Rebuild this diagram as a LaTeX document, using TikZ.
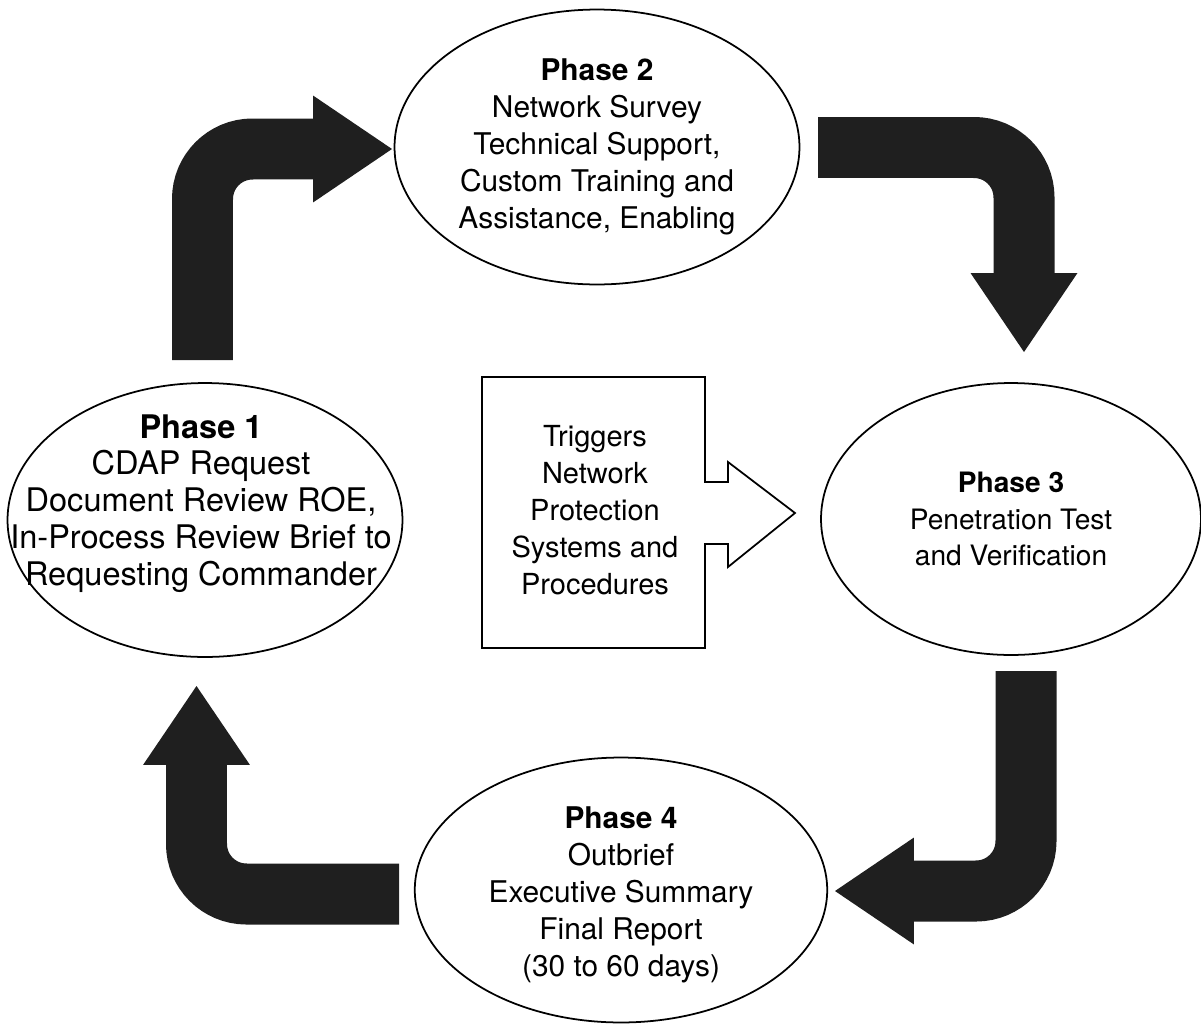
\documentclass[tikz,border=0pt]{standalone}
\usepackage{fontspec}
\setmainfont{TeX Gyre Heros}
\usetikzlibrary{shapes,arrows.meta,positioning}

\begin{document}
\begin{tikzpicture}[x=0.02cm, y=-0.02cm,
    phase/.style={ellipse, draw, line width=1pt, minimum width=7.9cm, minimum height=5.48cm},
    phasetext/.style={align=center, font=\fontsize{17}{21}\selectfont},
    flow/.style={line width=1.22cm, draw=black!88, rounded corners=1cm,
      -{Triangle[width=2.14cm, length=1.58cm, line width=0pt]}}
  ]
  \useasboundingbox (0,0) rectangle (1201,1025);

  % the four phases
  \node[phase] (p1) at (205,520) {};
  \node[phase, minimum width=8.1cm, minimum height=5.5cm] (p2) at (597,147) {};
  \node[phase, minimum width=7.6cm, minimum height=5.44cm] (p3) at (1011,519) {};
  \node[phase, minimum width=8.25cm, minimum height=5.3cm] (p4) at (621,890) {};

  \node[phasetext, font=\fontsize{18.5}{21}\selectfont, xshift=-0.08cm, yshift=0.33cm] (t1) at (p1)
    {\textbf{Phase 1}\\CDAP Request\\Document Review ROE,\\In-Process Review Brief to\\Requesting Commander};
  \node[phasetext] (t2) at (p2) {\textbf{Phase 2}\\Network Survey\\Technical Support,\\Custom Training and\\Assistance, Enabling};
  \node[phasetext, font=\fontsize{16}{21}\selectfont] (t3) at (p3) {\textbf{Phase 3}\\Penetration Test\\and Verification};
  \node[phasetext, yshift=-0.1cm] (t4) at (p4) {\textbf{Phase 4}\\Outbrief\\Executive Summary\\Final Report\\(30 to 60 days)};

  % cycle arrows
  \coordinate (a1s) at (202.5,360);
  \coordinate (a1e) at (392,149);
  \coordinate (a2s) at (818,147.5);
  \coordinate (a2e) at (1024,352);
  \coordinate (a3s) at (1026,671);
  \coordinate (a3e) at (835,891);
  \coordinate (a4s) at (399,894);
  \coordinate (a4e) at (196.5,686);
  \draw[flow] (a1s) |- (a1e);
  \draw[flow] (a2s) -| (a2e);
  \draw[flow] (a3s) |- (a3e);
  \draw[flow] (a4s) -| (a4e);

  % trigger box
  \node[phasetext, font=\fontsize{16.5}{21}\selectfont] (trig) at (595,510) {Triggers\\Network\\Protection\\Systems and\\Procedures};
  \draw[line width=1pt] (482,377) -- (705,377) -- (705,482) -- (728,482) -- (728,462) -- (795,513)
    -- (728,567) -- (728,544) -- (705,544) -- (705,648) -- (482,648) -- cycle;
\end{tikzpicture}
\end{document}
